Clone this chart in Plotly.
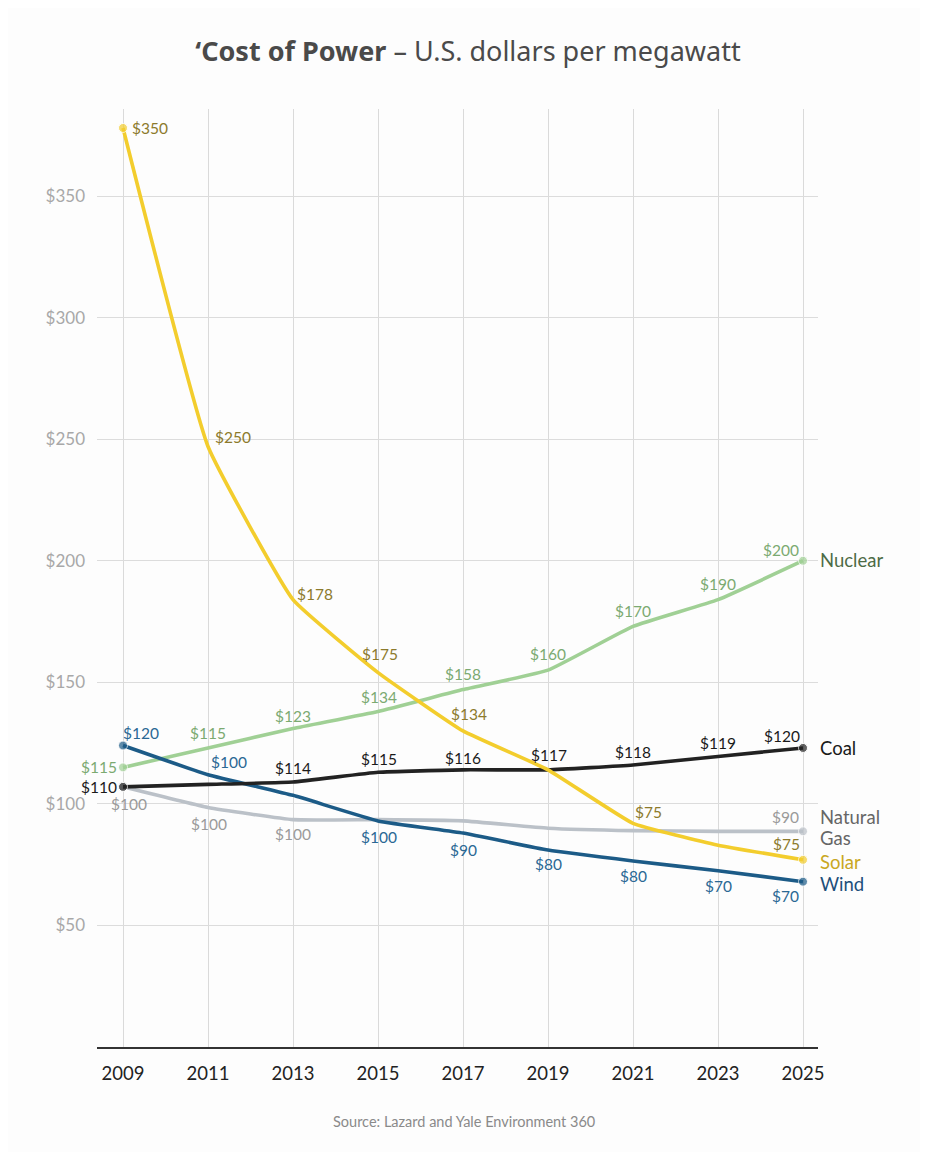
import plotly.graph_objects as go

years = [2009, 2011, 2013, 2015, 2017, 2019, 2021, 2023, 2025]

# plotted positions (US$ per MWh)
solar = [378, 247, 184, 154, 130, 114, 92, 83, 77]
nuclear = [115, 123, 131, 138, 147, 155, 173, 184, 200]
coal = [107, 108, 109, 113, 114, 114, 116, 119.5, 123]
gas = [107, 98.5, 93.5, 93.5, 93, 90, 89, 88.7, 88.7]
wind = [124, 112, 103.5, 93, 88, 81, 76.5, 72.5, 68]

# printed point labels (None = no label)
solar_lbl = ["$350", "$250", "$178", "$175", "$134", None, "$75", None, "$75"]
nuclear_lbl = ["$115", "$115", "$123", "$134", "$158", "$160", "$170", "$190", "$200"]
coal_lbl = ["$110", None, "$114", "$115", "$116", "$117", "$118", "$119", "$120"]
gas_lbl = ["$100", "$100", "$100", None, None, None, None, None, "$90"]
wind_lbl = ["$120", "$100", None, "$100", "$90", "$80", "$80", "$70", "$70"]

y_ticks = [50, 100, 150, 200, 250, 300, 350]

series = [
    # name, values, labels, line colour, label colour, end colour, label offsets (px)
    ("Solar", solar, solar_lbl, "#F3CD2D", "#8C7A2C", "#C9A722",
     [(27, 0), (25, 9), (22, 6), (2, 19), (6, 17), None, (15, 11), None, (-17, 16)]),
    ("Nuclear", nuclear, nuclear_lbl, "#A0D095", "#7BAA71", "#4D6B46",
     [(-24, 0), (0, 15), (0, 13), (1, 14), (0, 16), (0, 16), (0, 15), (0, 16), (-22, 11)]),
    ("Coal", coal, coal_lbl, "#222222", "#1A1A1A", "#1A1A1A",
     [(-24, 0), None, (0, 14), (1, 13), (0, 12), (1, 15), (0, 13), (0, 13), (-21, 12)]),
    ("Natural Gas", gas, gas_lbl, "#BBC1C8", "#9A9A9A", "#666666",
     [(6, -17), (1, -16), (0, -14), None, None, None, None, None, (-18, 14)]),
    ("Wind", wind, wind_lbl, "#1C5B87", "#2A6894", "#1D4F7A",
     [(18, 13), (21, 13), None, (1, -16), (0, -17), (0, -14), (0, -15), (0, -15), (-18, -14)]),
]

# right-hand series names: (text lines, page y of each line)
end_labels = {
    "Nuclear": [("Nuclear", 561)],
    "Coal": [("Coal", 749)],
    "Natural Gas": [("Natural", 818), ("Gas", 839)],
    "Solar": [("Solar", 863)],
    "Wind": [("Wind", 885)],
}

fig = go.Figure()
annotations = []

# draw gas before coal so the coal marker sits on top at 2009
order = ["Natural Gas", "Nuclear", "Wind", "Coal", "Solar"]
lookup = {s[0]: s for s in series}
for key in order:
    name, vals, lbls, col, lcol, end_col, offs = lookup[key]
    sizes = [9] + [0] * (len(years) - 2) + [9]
    fig.add_trace(go.Scatter(
        x=years, y=vals, name=name, mode="lines+markers",
        line=dict(color=col, width=3.6, shape="spline", smoothing=0.35),
        marker=dict(size=sizes, color=col),
        hoverinfo="x+y+name", showlegend=False,
    ))
    for xv, yv, t, o in zip(years, vals, lbls, offs):
        if t is None:
            continue
        annotations.append(dict(
            x=xv, y=yv, xref="x", yref="y", text=t, showarrow=False,
            xshift=o[0], yshift=o[1], xanchor="center", yanchor="middle",
            font=dict(family="Lato", size=15.5, color=lcol),
        ))

for name, vals, lbls, col, lcol, end_col, offs in series:
    for txt, py in end_labels[name]:
        annotations.append(dict(
            x=1.0, xref="paper", y=vals[-1], yref="y", text=txt, showarrow=False,
            xanchor="left", yanchor="middle", xshift=0,
            yshift=(1048.5 - py) - vals[-1] * 2.435,
            font=dict(family="Lato", size=18.5, color=end_col),
        ))

annotations.append(dict(
    x=0.509, xref="paper", y=0, yref="paper", yshift=-74, yanchor="middle",
    text="Source: Lazard and Yale Environment 360", showarrow=False,
    font=dict(family="Lato", size=14.5, color="#8A8A8A"),
))

# page body adds an 8px margin, so the figure is 8px smaller and shifted
fig.update_layout(
    width=920, height=1144,
    margin=dict(l=89, r=110, t=101, b=105),
    paper_bgcolor="#FDFDFD", plot_bgcolor="#FDFDFD",
    title=dict(
        text="<b>\u2018Cost of Power</b> \u2013 U.S. dollars per megawatt",
        x=0.5, xanchor="center", y=1 - 44 / 1144, yanchor="middle",
        font=dict(family="Noto Sans", size=27, color="#4A4A4A"),
    ),
    annotations=annotations,
    xaxis=dict(
        range=[2008.388, 2025.353], tickvals=years, ticktext=[str(y) for y in years],
        showgrid=True, gridcolor="#DADADA", gridwidth=1,
        showline=True, linecolor="#333333", linewidth=1.6,
        zeroline=False, ticks="", ticklabelstandoff=9,
        tickfont=dict(family="Lato", size=18.5, color="#222222"),
    ),
    yaxis=dict(
        range=[0, 385.8], tickvals=y_ticks, ticktext=[f"${v}" for v in y_ticks],
        showgrid=True, gridcolor="#DCDCDC", gridwidth=1,
        zeroline=False, showline=False, ticks="", ticklabelstandoff=11,
        tickfont=dict(family="Lato", size=17, color="#A8A8A8"),
    ),
    hovermode="closest",
)

fig.write_html("out.html")
